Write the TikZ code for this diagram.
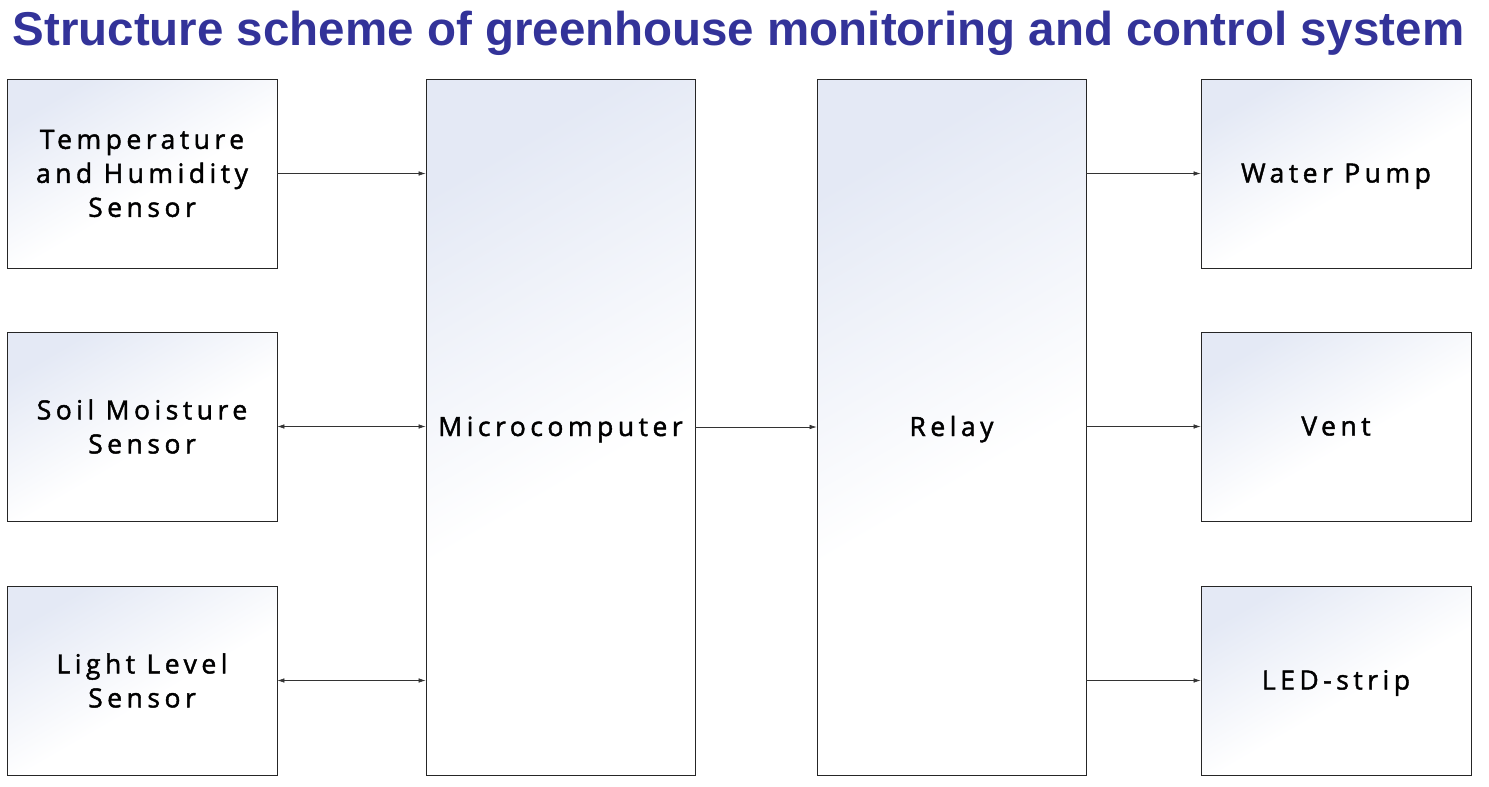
\documentclass[tikz,border=0pt]{standalone}
\usepackage{fontspec}
\setmainfont{Open Sans}[LetterSpace=17,FakeBold=1.6]
\newfontfamily\titlefont{Liberation Sans}
\usetikzlibrary{arrows.meta}
\definecolor{titleblue}{HTML}{333399}
\definecolor{gradtop}{HTML}{E4E9F5}
\pgfdeclareverticalshading{boxgrad}{100bp}{color(0bp)=(white); color(45bp)=(white); color(75bp)=(gradtop); color(100bp)=(gradtop)}
\tikzset{
  blk/.style={draw=black!85, line width=0.8pt, shading=boxgrad, shading angle=30, font=\fontsize{26.5}{34}\selectfont, align=center, inner sep=0pt},
  one/.style={text depth=0pt, text height=18pt},
  conn/.style={line width=0.6pt, draw=black!80, -{Latex[length=7pt,width=4.5pt]}},
  bconn/.style={line width=0.6pt, draw=black!80, {Latex[length=7pt,width=4.5pt]}-{Latex[length=7pt,width=4.5pt]}}
}
\begin{document}
\begin{tikzpicture}[x=1pt,y=-1pt]
\useasboundingbox (0,0) rectangle (1489,787);
\node[font=\titlefont\bfseries\fontsize{47.5}{50}\selectfont, text=titleblue, anchor=center] (title) at (738.5,33) {Structure scheme of greenhouse monitoring and control system};
% left column
\node[blk, minimum width=270pt, minimum height=189pt] (ths) at (142,173.5) {Temperature\\and Humidity\\Sensor};
\node[blk, minimum width=270pt, minimum height=189pt] (sms) at (142,426.5) {Soil Moisture\\Sensor};
\node[blk, minimum width=270pt, minimum height=189pt] (lls) at (142,680.5) {Light Level\\Sensor};
% middle
\node[blk, one, minimum width=269pt, minimum height=696pt] (mc) at (560.5,427) {Microcomputer};
\node[blk, one, minimum width=269pt, minimum height=696pt] (rl) at (951.5,427) {Relay};
% right column
\node[blk, one, minimum width=270pt, minimum height=189pt] (wp) at (1336,173.5) {Water Pump};
\node[blk, one, minimum width=270pt, minimum height=189pt] (vt) at (1336,426.5) {Vent};
\node[blk, one, minimum width=270pt, minimum height=189pt] (led) at (1336,680.5) {LED-strip};
% connectors
\draw[conn] (ths.east) -- (ths.east -| mc.west);
\draw[bconn] (sms.east) -- (sms.east -| mc.west);
\draw[bconn] (lls.east) -- (lls.east -| mc.west);
\draw[conn] (mc.east) -- (rl.west);
\draw[conn] (rl.east |- wp.west) -- (wp.west);
\draw[conn] (rl.east |- vt.west) -- (vt.west);
\draw[conn] (rl.east |- led.west) -- (led.west);
\end{tikzpicture}
\end{document}
